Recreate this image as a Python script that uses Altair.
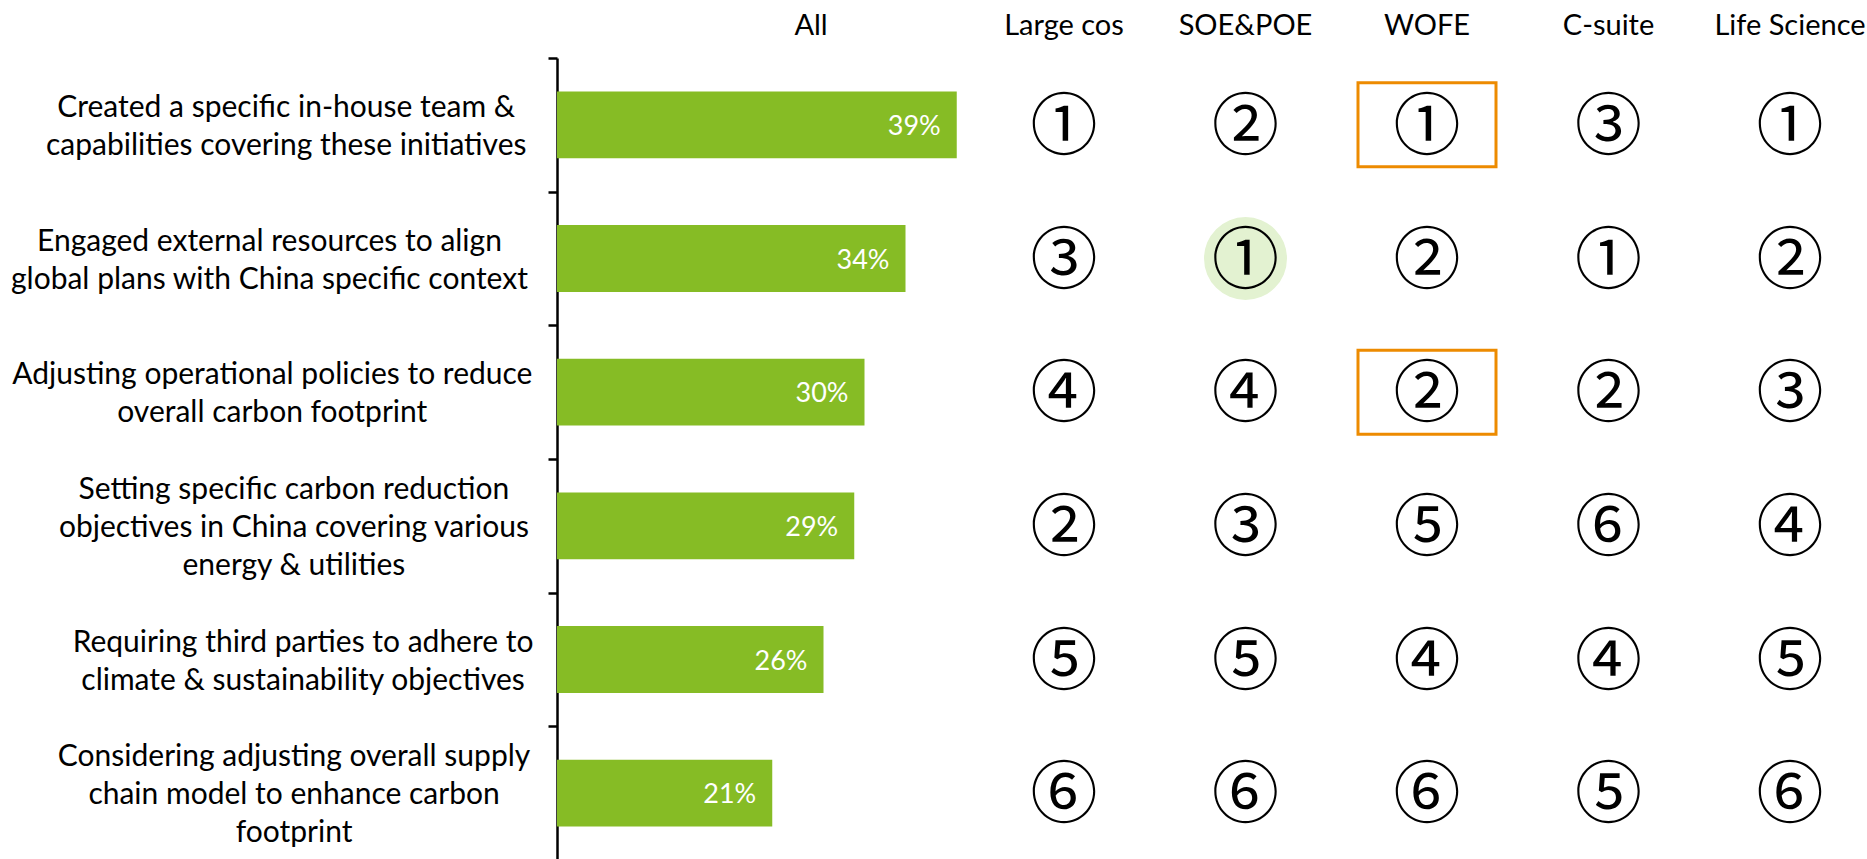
import altair as alt
import pandas as pd

# ---------------- data ----------------
categories = [
    "Created a specific in-house team &\ncapabilities covering these initiatives",
    "Engaged external resources to align\nglobal plans with China specific context",
    "Adjusting operational policies to reduce\noverall carbon footprint",
    "Setting specific carbon reduction\nobjectives in China covering various\nenergy & utilities",
    "Requiring third parties to adhere to\nclimate & sustainability objectives",
    "Considering adjusting overall supply\nchain model to enhance carbon\nfootprint",
]
all_pct = [39, 34, 30, 29, 26, 21]
groups = ["Large cos", "SOE&POE", "WOFE", "C-suite", "Life Science"]
rank_large = [1, 3, 4, 2, 5, 6]
rank_soe = [2, 1, 4, 3, 5, 6]
rank_wofe = [1, 2, 2, 5, 4, 6]
rank_csuite = [3, 1, 2, 6, 4, 5]
rank_life = [1, 2, 3, 4, 5, 6]
boxed_cells = [("WOFE", 0), ("WOFE", 2)]
shaded_cells = [("SOE&POE", 1)]

# ---------------- style ----------------
FONT = "Lato"
FS_LABEL = 30
FS_HEAD = 29
FS_PCT = 27
LH = 38
GREEN = "#86BC25"
LIGHT_GREEN = "#E3F2D1"
ORANGE = "#ED8B00"
W, H = 1310, 802
LABEL_RIGHT = -30  # right edge of the category text block, relative to axis


def est_width(line, size=FS_LABEL):
    w = 0.0
    for ch in line:
        if ch in "ijl'|":
            w += 0.24
        elif ch in "ftr":
            w += 0.34
        elif ch == " ":
            w += 0.25
        elif ch in "mw":
            w += 0.80
        elif ch in "&":
            w += 0.68
        elif ch.isupper():
            w += 0.64
        else:
            w += 0.52
    return w * size


keys = [c.replace("\n", " ") for c in categories]
label_x = [LABEL_RIGHT - max(est_width(l) for l in c.split("\n")) / 2 for c in categories]
nlines = [c.count("\n") + 1 for c in categories]

bars = pd.DataFrame({"cat": keys, "label": categories, "pct": all_pct,
                     "txt": [f"{v}%" for v in all_pct], "lx": label_x,
                     "n": nlines})

ranks = {"Large cos": rank_large, "SOE&POE": rank_soe, "WOFE": rank_wofe,
         "C-suite": rank_csuite, "Life Science": rank_life}
rows = []
for g in groups:
    for i, r in enumerate(ranks[g]):
        rows.append({"cat": keys[i], "group": g, "rank": r, "glyph": chr(0x245F + r)})
cells = pd.DataFrame(rows)
boxes = pd.DataFrame([{"cat": keys[i], "group": g} for g, i in boxed_cells])
shades = pd.DataFrame([{"cat": keys[i], "group": g} for g, i in shaded_cells])
heads = pd.DataFrame({"group": groups})

yscale = alt.Scale(domain=keys, paddingInner=0, paddingOuter=0)
gscale = alt.Scale(type="point", domain=groups, range=[507, 1233], padding=0)

y_enc = alt.Y("cat:N", sort=keys, scale=yscale,
              axis=alt.Axis(labels=False, title=None, tickBand="extent",
                            domainColor="black", domainWidth=2.5,
                            tickColor="black", tickWidth=2.5, tickSize=9,
                            grid=False))
x_pct = alt.X("pct:Q", scale=alt.Scale(domain=[0, 100], range=[0, 1025]), axis=None)
x_grp = alt.X("group:N", scale=gscale, axis=None)

bar_layer = alt.Chart(bars).mark_bar(color=GREEN, height={"band": 0.5}).encode(
    x=x_pct, y=y_enc)
bar_text = alt.Chart(bars).mark_text(
    align="right", baseline="middle", dx=-16, dy=2, color="white",
    font=FONT, fontSize=FS_PCT).encode(x=x_pct, y=y_enc, text="txt:N")

cat_layers = []
for n in sorted(set(nlines)):
    cat_layers.append(
        alt.Chart(bars).transform_filter(alt.datum.n == n).mark_text(
            align="center", baseline="middle", lineBreak="\n", lineHeight=LH,
            font=FONT, fontSize=FS_LABEL, color="black",
            dy=2 - (n - 1) * LH / 2).encode(
            x=alt.X("lx:Q", scale=None), y=y_enc, text="label:N"))

shade_layer = alt.Chart(shades).mark_point(
    shape="circle", filled=True, color=LIGHT_GREEN, opacity=1, size=83 * 83).encode(
    x=x_grp, y=y_enc)
box_layer = alt.Chart(boxes).mark_point(
    shape="M-1,-0.609H1V0.609H-1Z", filled=False, color=ORANGE, opacity=1,
    strokeWidth=3, size=138 * 138).encode(x=x_grp, y=y_enc)
glyph_layer = alt.Chart(cells).mark_text(
    align="center", baseline="middle", font="Noto Sans CJK SC", fontSize=67,
    color="black", dy=4).encode(x=x_grp, y=y_enc, text="glyph:N")

head_layer = alt.Chart(heads).mark_text(
    align="center", baseline="middle", font=FONT, fontSize=FS_HEAD, color="black").encode(
    x=x_grp, y=alt.value(-32), text="group:N")
all_head = alt.Chart(pd.DataFrame({"t": ["All"]})).mark_text(
    align="center", baseline="middle", font=FONT, fontSize=FS_HEAD, color="black").encode(
    x=alt.value(254), y=alt.value(-32), text="t:N")

chart = alt.layer(
    bar_layer, bar_text, *cat_layers, shade_layer, box_layer, glyph_layer,
    head_layer, all_head
).resolve_scale(x="independent").properties(
    width=W, height=H,
    autosize=alt.AutoSizeParams(type="none"),
    padding={"left": 557, "top": 58, "right": 0, "bottom": 0},
    background="white",
).configure_view(stroke=None)

chart.save("out.html", embed_options={"renderer": "svg", "actions": False})
